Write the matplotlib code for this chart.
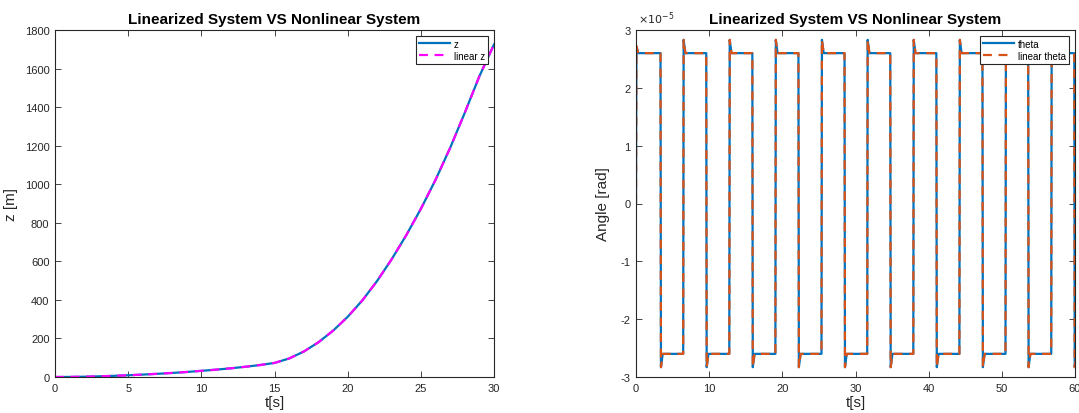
import matplotlib
matplotlib.use("Agg")
import matplotlib.pyplot as plt
from matplotlib.ticker import FuncFormatter

plt.rcParams['font.family'] = ['Liberation Sans', 'DejaVu Sans']
plt.rcParams['axes.unicode_minus'] = False

# z position, nonlinear vs linearized (sampled each second)
t_z = [0, 1, 2, 3, 4, 5, 6, 7, 8, 9, 10, 11, 12, 13, 14, 15,
       16, 17, 18, 19, 20, 21, 22, 23, 24, 25, 26, 27, 28, 29, 30]
z = [0, 0.4, 1.5, 3.5, 6, 9, 12.5, 16.5, 21, 26, 32, 38, 45, 53, 62, 73,
     96, 132, 180, 240, 312, 397, 497, 610, 735, 872, 1022, 1188, 1370, 1560, 1725]
z_lin = [0, 0.4, 1.5, 3.5, 6, 9, 12.5, 16.5, 21, 26, 32, 38, 45, 53, 62, 73,
         96, 132, 180, 240, 312, 397, 497, 610, 735, 872, 1022, 1188, 1370, 1560, 1725]

# theta: switching instants, overshoot peaks and settled levels (rad)
edge_t = [0.0, 3.35, 6.45, 9.6, 12.75, 15.9, 19.05, 22.2, 25.35, 28.5,
          31.6, 34.75, 37.9, 41.05, 44.2, 47.35, 50.5, 53.6, 56.75, 59.9]
peak = [2.72e-5, -2.83e-5, 2.83e-5, -2.83e-5, 2.83e-5, -2.83e-5, 2.83e-5, -2.83e-5, 2.83e-5, -2.83e-5,
        2.83e-5, -2.83e-5, 2.83e-5, -2.83e-5, 2.83e-5, -2.83e-5, 2.83e-5, -2.83e-5, 2.83e-5, -2.83e-5]
settle = [2.6e-5, -2.6e-5, 2.6e-5, -2.6e-5, 2.6e-5, -2.6e-5, 2.6e-5, -2.6e-5, 2.6e-5, -2.6e-5,
          2.6e-5, -2.6e-5, 2.6e-5, -2.6e-5, 2.6e-5, -2.6e-5, 2.6e-5, -2.6e-5, 2.6e-5, -2.6e-5]

t_th, th = [0.0], [0.0]
prev = 0.0
for te, pk, lv in zip(edge_t, peak, settle):
    t_th += [te, te + 0.06, te + 0.3]
    th += [prev, pk, lv]
    prev = lv
t_th.append(60.0)
th.append(prev)
th_lin = list(th)

blue = '#0072BD'
orange = '#D95319'
magenta = '#FF00FF'
dark = '#262626'

fig = plt.figure(figsize=(10.79, 4.14), dpi=100)
ax1 = fig.add_axes([55 / 1079, 36 / 414, 439 / 1079, 347 / 414])
ax2 = fig.add_axes([636 / 1079, 36 / 414, 439 / 1079, 347 / 414])

ax1.plot(t_z, z, color=blue, lw=1.6, label='z')
ax1.plot(t_z, z_lin, color=magenta, lw=1.6, ls=(0, (4, 3)), label='linear z')
ax1.set_xlim(0, 30)
ax1.set_ylim(0, 1800)
ax1.set_xticks(range(0, 31, 5))
ax1.set_yticks(range(0, 1801, 200))
ax1.set_xlabel('t[s]', fontsize=11, color=dark, labelpad=2)
ax1.set_ylabel('z [m]', fontsize=11, color=dark)
ax1.yaxis.set_label_coords(-0.084, 0.5)

ax2.plot(t_th, th, color=blue, lw=1.6, label='theta')
ax2.plot(t_th, th_lin, color=orange, lw=1.6, ls=(0, (4, 3)), label='linear theta')
ax2.set_xlim(0, 60)
ax2.set_ylim(-3e-5, 3e-5)
ax2.set_xticks(range(0, 61, 10))
ax2.set_yticks([-3e-5, -2e-5, -1e-5, 0, 1e-5, 2e-5, 3e-5])
ax2.yaxis.set_major_formatter(FuncFormatter(lambda v, _: '%g' % round(v * 1e5, 6)))
ax2.text(0.005, 1.012, r'$\times10^{-5}$', transform=ax2.transAxes,
         fontsize=8, color=dark, ha='left', va='bottom')
ax2.set_xlabel('t[s]', fontsize=11, color=dark, labelpad=2)
ax2.set_ylabel('Angle [rad]', fontsize=11, color=dark)
ax2.yaxis.set_label_coords(-0.059, 0.5)

for ax in (ax1, ax2):
    ax.set_title('Linearized System VS Nonlinear System', fontsize=11,
                 fontweight='bold', pad=5)
    ax.tick_params(direction='in', length=4, width=0.6, labelsize=8,
                   colors=dark, top=True, right=True, pad=4)
    for s in ax.spines.values():
        s.set_color(dark)
        s.set_linewidth(0.8)
    leg = ax.legend(loc='upper right', fontsize=7, fancybox=False,
                    framealpha=1, edgecolor=dark, handlelength=3.2,
                    borderpad=0.3, labelspacing=0.2, handletextpad=0.4,
                    borderaxespad=0.6)
    leg.get_frame().set_linewidth(0.8)

fig.savefig('out.png', dpi=100)
